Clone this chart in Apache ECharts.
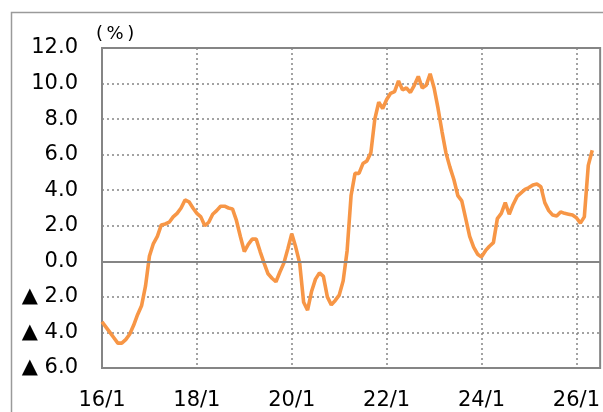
<!DOCTYPE html>
<html>
  <head>
    <meta charset="utf-8">
    <title>chart</title>
    <script type="text/javascript" src="https://cdn.jsdelivr.net/npm/echarts@6/dist/echarts.min.js"></script>
    <style>
      html, body { margin: 0; padding: 0; background: #fff; }
      #chart { width: 603px; height: 412px; }
    </style>
  </head>
  <body>
    <div id="chart"></div>
    <script type="text/javascript">

      // monthly, 2016/1 .. 2026/5  (%)
      var values = [
        -3.4, -3.7, -4.0, -4.3, -4.6, -4.6, -4.4, -4.1, -3.6, -3.0, -2.5, -1.4,
         0.3,  1.0,  1.4,  2.05, 2.1,  2.2,  2.5,  2.7,  3.0,  3.45, 3.35, 3.0,
         2.7,  2.5,  2.0,  2.2,  2.65, 2.85, 3.1,  3.1,  3.0,  2.95, 2.3,  1.4,
         0.55, 0.95, 1.25, 1.25, 0.55,-0.1, -0.7, -0.95,-1.15,-0.6, -0.1,  0.7,
         1.55, 0.8, -0.1, -2.3, -2.75,-1.7, -1.0, -0.65,-0.85,-2.0, -2.45,-2.2,
        -1.9, -1.1,  0.6,  3.7,  4.95, 4.95, 5.5,  5.65, 6.1,  8.0,  8.95, 8.6,
         9.1,  9.45, 9.55,10.15, 9.65, 9.75, 9.5,  9.9, 10.4,  9.75, 9.9, 10.55,
         9.75, 8.6,  7.3,  6.1,  5.3,  4.6,  3.7,  3.4,  2.4,  1.4,  0.8,  0.4,
         0.25, 0.6,  0.85, 1.05, 2.4,  2.7,  3.3,  2.65, 3.2,  3.65, 3.85, 4.05,
         4.15, 4.3,  4.35, 4.2,  3.3,  2.85, 2.6,  2.55, 2.78, 2.7,  2.65, 2.6,
         2.45, 2.15, 2.5,  5.4,  6.25
      ];

      var tickLabels = ["16/1", "18/1", "20/1", "22/1", "24/1", "26/1"];
      var yMin = -6, yMax = 12, yStep = 2;

      // axis runs 2016/1 .. 2026/7
      var months = [];
      for (var i = 0; i < 127; i++) {
        var y = 16 + Math.floor(i / 12);
        months.push(y + "/" + (i % 12 + 1));
      }

      function isTick(idx) {
        return tickLabels.indexOf(months[idx]) >= 0;
      }

      var myChart = echarts.init(document.getElementById('chart'));
      var gray = "#858585";
      var font = "DejaVu Sans";

      var option = {
        animation: false,
        backgroundColor: "#fff",
        title: {
          text: "(\u2009%\u2009)",
          left: 96, top: 25, padding: 0,
          textStyle: { fontSize: 18, fontWeight: "normal", fontFamily: font, color: "#000" }
        },
        grid: {
          left: 102, right: 2, top: 48, bottom: 44,
          show: true, borderColor: gray, borderWidth: 2, backgroundColor: "transparent"
        },
        graphic: [
          {
            type: "rect", silent: true, z: 0,
            shape: { x: 11.5, y: 12.5, width: 640, height: 440 },
            style: { fill: "none", stroke: "#9a9a9a", lineWidth: 1.5 }
          }
        ],
        xAxis: {
          type: "category",
          data: months,
          boundaryGap: false,
          axisLine: { show: false, onZero: false },
          axisTick: { show: false },
          axisLabel: {
            interval: function (idx) { return isTick(idx); },
            margin: 22,
            fontFamily: font, fontSize: 21, color: "#000"
          },
          splitLine: {
            show: true,
            interval: function (idx) { return isTick(idx); },
            lineStyle: { color: gray, width: 1.5, type: [2, 3] }
          }
        },
        yAxis: {
          type: "value",
          min: yMin, max: yMax, interval: yStep,
          axisLine: { show: true, lineStyle: { color: gray, width: 2 } },
          axisTick: { show: false },
          axisLabel: {
            margin: 24,
            fontFamily: font, fontSize: 21, color: "#000",
            formatter: function (v) {
              return v < 0 ? "▲ " + Math.abs(v).toFixed(1) : v.toFixed(1);
            }
          },
          splitLine: { lineStyle: { color: gray, width: 1.5, type: [2, 3] } }
        },
        series: [
          {
            type: "line",
            data: values,
            showSymbol: false,
            lineStyle: { color: "#F79646", width: 3.6 },
            z: 3,
            markLine: {
              silent: true,
              symbol: "none",
              label: { show: false },
              lineStyle: { color: gray, width: 2, type: "solid" },
              data: [{ yAxis: 0 }]
            }
          }
        ]
      };

      myChart.setOption(option);
    </script>
  </body>
</html>
